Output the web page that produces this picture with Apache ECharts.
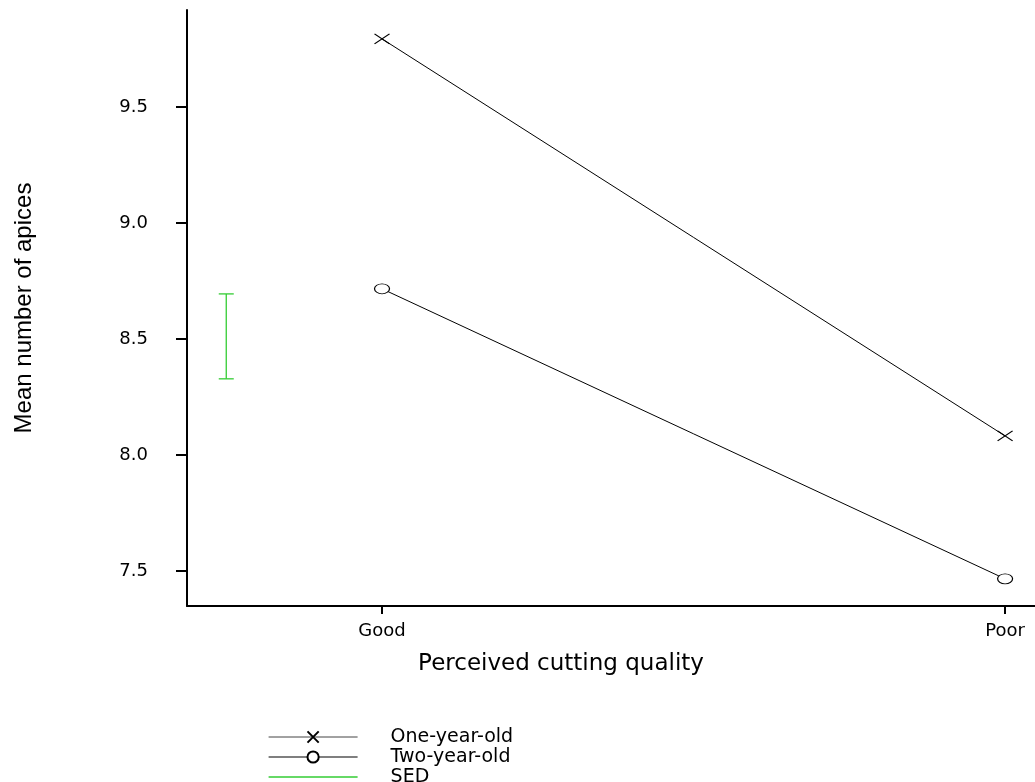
<!DOCTYPE html>
<html>
<head>
<meta charset="utf-8">
<script src="https://cdn.jsdelivr.net/npm/echarts@6/dist/echarts.min.js"></script>
<style>
html,body{margin:0;padding:0;background:#fff;}
#chart{width:1035px;height:782px;}
</style>
</head>
<body>
<div id="chart"></div>
<script>
// ---- data ----
var categories = ['Good', 'Poor'];
var categoryPositions = [1, 2];
var oneYearOld = [9.793, 8.082];
var twoYearOld = [8.716, 7.466];
var sedPosition = 0.75;
var sedLow = 8.328;
var sedHigh = 8.694;
var yTicks = [7.5, 8.0, 8.5, 9.0, 9.5];

var FONT = '"Liberation Sans", Arial, sans-serif';
var WIDE = '"DejaVu Sans", sans-serif';
var crossPath = 'path://M0,0L15,10M15,0L0,10';

function pairs(vals) {
  return vals.map(function (v, i) { return [categoryPositions[i], v]; });
}

var chart = echarts.init(document.getElementById('chart'), null, {renderer: 'canvas'});
chart.setOption({
  backgroundColor: '#fff',
  animation: false,
  grid: {left: 187, top: 10, width: 848, height: 596, containLabel: false, outerBoundsMode: 'none'},
  xAxis: {
    type: 'value',
    min: 0.687,
    max: 2.048,
    name: 'Perceived cutting quality',
    nameLocation: 'middle',
    nameGap: 47,
    nameTextStyle: {fontFamily: WIDE, fontSize: 23, color: '#000', padding: [0, 100, 0, 0]},
    axisLine: {show: true, onZero: false, lineStyle: {color: '#000', width: 2}},
    axisTick: {show: true, length: 8, lineStyle: {color: '#000', width: 2}, customValues: categoryPositions},
    axisLabel: {
      show: true, margin: 16, fontFamily: WIDE, fontSize: 18, color: '#000',
      customValues: categoryPositions,
      formatter: function (v) {
        var i = categoryPositions.indexOf(Math.round(v));
        return i >= 0 ? categories[i] : '';
      }
    },
    splitLine: {show: false}
  },
  yAxis: {
    type: 'value',
    min: 7.349,
    max: 9.9175,
    name: 'Mean number of apices',
    nameLocation: 'middle',
    nameGap: 151,
    nameRotate: 90,
    nameTextStyle: {fontFamily: FONT, fontSize: 24, color: '#000'},
    axisLine: {show: true, onZero: false, lineStyle: {color: '#000', width: 2}},
    axisTick: {show: true, length: 11, lineStyle: {color: '#000', width: 2}, customValues: yTicks},
    axisLabel: {
      show: true, margin: 39, fontFamily: WIDE, fontSize: 18, color: '#000',
      padding: [0, 0, 6, 0],
      customValues: yTicks,
      formatter: function (v) { return v.toFixed(1); }
    },
    splitLine: {show: false}
  },
  legend: {
    orient: 'vertical',
    left: 268,
    top: 727,
    height: 120,
    padding: 0,
    itemWidth: 89,
    itemHeight: 14,
    itemGap: 0,
    lineStyle: {width: 1, color: '#000'},
    textStyle: {fontFamily: WIDE, fontSize: 19, lineHeight: 20, color: '#000', padding: [0, 0, 0, 28]},
    data: [
      {name: 'One-year-old', lineStyle: {color: '#444', width: 1}},
      {name: 'Two-year-old', lineStyle: {color: '#000', width: 1.2}},
      {name: 'SED', icon: 'path://M0,0H89V1.5H0Z', itemStyle: {color: '#33cc33'}}
    ]
  },
  series: [
    {
      name: 'One-year-old',
      type: 'line',
      data: pairs(oneYearOld),
      symbol: crossPath,
      symbolSize: [15, 10],
      symbolKeepAspect: false,
      lineStyle: {color: '#000', width: 1},
      itemStyle: {color: '#000', borderColor: '#000', borderWidth: 1},
      z: 3
    },
    {
      name: 'Two-year-old',
      type: 'line',
      data: pairs(twoYearOld),
      symbol: 'circle',
      symbolSize: [15, 10],
      lineStyle: {color: '#000', width: 1},
      itemStyle: {color: '#fff', borderColor: '#000', borderWidth: 1},
      z: 3
    },
    {
      name: 'SED',
      type: 'custom',
      data: [[sedPosition, sedLow, sedHigh]],
      itemStyle: {color: '#33cc33'},
      renderItem: function (params, api) {
        var lo = api.coord([api.value(0), api.value(1)]);
        var hi = api.coord([api.value(0), api.value(2)]);
        var half = 7.5;
        var st = {stroke: '#33cc33', lineWidth: 1.3, fill: null};
        return {
          type: 'group',
          children: [
            {type: 'line', shape: {x1: lo[0], y1: lo[1], x2: hi[0], y2: hi[1]}, style: st},
            {type: 'line', shape: {x1: lo[0] - half, y1: lo[1], x2: lo[0] + half, y2: lo[1]}, style: st},
            {type: 'line', shape: {x1: hi[0] - half, y1: hi[1], x2: hi[0] + half, y2: hi[1]}, style: st}
          ]
        };
      }
    }
  ]
});
</script>
</body>
</html>
